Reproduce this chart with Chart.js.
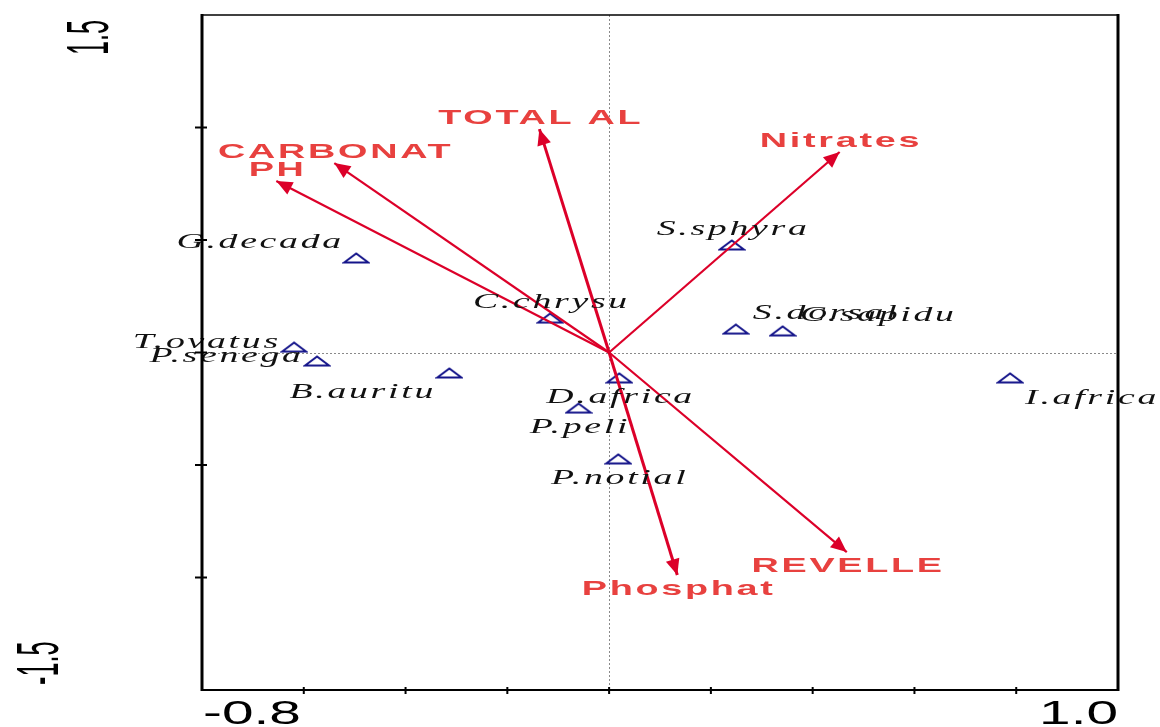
<!DOCTYPE html>
<html>
<head>
<meta charset="utf-8">
<script src="https://cdn.jsdelivr.net/npm/chart.js@4/dist/chart.umd.min.js"></script>
<style>
  html, body { margin: 0; padding: 0; background: #ffffff; }
  #wrap { width: 1160px; height: 727px; position: relative; }
</style>
</head>
<body>
<div id="wrap"><canvas id="ordination"></canvas></div>
<script>
// Species scores (axis 1, axis 2)
const species  = ['G.decada', 'T.ovatus', 'P.senega', 'B.auritu', 'C.chrysu', 'D.africa',
                  'P.peli', 'P.notial', 'S.sphyra', 'S.dorsal', 'C.sapidu', 'I.africa'];
const speciesX = [-0.497, -0.619, -0.574, -0.314, -0.116, 0.020, -0.060, 0.018, 0.241, 0.249, 0.341, 0.788];
const speciesY = [ 0.420,  0.024, -0.038, -0.091,  0.153, -0.113, -0.247, -0.473, 0.478, 0.104, 0.096, -0.113];
// Which side of its symbol each species name sits on
const labelSide = ['NW', 'W', 'W', 'SW', 'N', 'S', 'S', 'S', 'N', 'NE', 'NE', 'SE'];

// Environmental variable vectors (arrow tips)
const envVars = ['TOTAL AL', 'CARBONAT', 'PH', 'Nitrates', 'Phosphat', 'REVELLE'];
const envX    = [-0.137, -0.540, -0.654, 0.453, 0.134, 0.467];
const envY    = [ 0.993,  0.842,  0.762, 0.891, -0.989, -0.887];

// Axis ranges, tick marks and the printed end labels
const xRange = [-0.8, 1.0];
const yRange = [-1.5, 1.5];
const xTickValues = [-0.6, -0.4, -0.2, 0, 0.2, 0.4, 0.6, 0.8];
const yTickValues = [1.0, 0.5, 0, -0.5, -1.0];
const xTickLabels = ['-0.8', '1.0'];
const yTickLabels = ['1.5', '-1.5'];

const ARROW_COLOR = '#dc0029';
const ENV_TEXT = '#e8413f';
const SPECIES_COLOR = '#14148a';

// Open, flattened triangle used as the species symbol
function makeTriangle() {
  const c = document.createElement('canvas');
  c.width = 28; c.height = 12;
  const g = c.getContext('2d');
  g.strokeStyle = SPECIES_COLOR;
  g.lineWidth = 2;
  g.lineJoin = 'miter';
  g.beginPath();
  g.moveTo(2, 10.5);
  g.lineTo(14, 1.5);
  g.lineTo(26, 10.5);
  g.closePath();
  g.stroke();
  return c;
}

// Text drawn with horizontal stretch and tracking
function stretchedText(ctx, text, x, y, align, sx, ls) {
  ctx.save();
  ctx.letterSpacing = ls + 'px';
  ctx.textAlign = 'left';
  ctx.textBaseline = 'alphabetic';
  const w = (ctx.measureText(text).width - ls) * sx;
  let left = x;
  if (align === 'center') left = x - w / 2;
  else if (align === 'right') left = x - w;
  ctx.translate(left, y);
  ctx.scale(sx, 1);
  ctx.fillText(text, 0, 0);
  ctx.restore();
}

const speciesData = species.map((n, i) => ({ x: speciesX[i], y: speciesY[i] }));
const arrowSets = envVars.map((n, i) => ({
  label: n,
  data: [{ x: 0, y: 0 }, { x: envX[i], y: envY[i] }],
  showLine: true,
  borderColor: ARROW_COLOR,
  borderWidth: (n === 'TOTAL AL' || n === 'Phosphat') ? 3 : 2.2,
  pointRadius: 0,
  pointHoverRadius: 0,
  fill: false
}));

const biplotDecor = {
  id: 'biplotDecor',
  beforeDatasetsDraw(chart) {
    const { ctx, chartArea: a, scales: { x, y } } = chart;
    ctx.save();
    ctx.strokeStyle = '#8a8a8a';
    ctx.lineWidth = 1;
    ctx.setLineDash([2, 2]);
    const x0 = Math.round(x.getPixelForValue(0)) + 0.5;
    const y0 = Math.round(y.getPixelForValue(0)) + 0.5;
    ctx.beginPath();
    ctx.moveTo(x0, a.top); ctx.lineTo(x0, a.bottom);
    ctx.moveTo(a.left, y0); ctx.lineTo(a.right, y0);
    ctx.stroke();
    ctx.restore();
  },
  afterDatasetsDraw(chart) {
    const { ctx, scales: { x, y } } = chart;
    ctx.save();
    // arrow heads
    ctx.fillStyle = ARROW_COLOR;
    const ox = x.getPixelForValue(0), oy = y.getPixelForValue(0);
    envVars.forEach((n, i) => {
      const tx = x.getPixelForValue(envX[i]), ty = y.getPixelForValue(envY[i]);
      const ang = Math.atan2(ty - oy, tx - ox);
      const len = 16, half = 7;
      const bx = tx - len * Math.cos(ang), by = ty - len * Math.sin(ang);
      ctx.beginPath();
      ctx.moveTo(tx, ty);
      ctx.lineTo(bx + half * Math.sin(ang), by - half * Math.cos(ang));
      ctx.lineTo(bx - half * Math.sin(ang), by + half * Math.cos(ang));
      ctx.closePath();
      ctx.fill();
    });
    // variable names
    ctx.fillStyle = ENV_TEXT;
    ctx.font = 'bold 21px "Liberation Sans", Arial, sans-serif';
    envVars.forEach((n, i) => {
      const tx = x.getPixelForValue(envX[i]), ty = y.getPixelForValue(envY[i]);
      const base = envY[i] >= 0 ? ty - 5 : ty + 20;
      stretchedText(ctx, n, tx, base, 'center', 1.8, 1.5);
    });
    // species names
    ctx.fillStyle = '#111111';
    ctx.font = 'italic 21px "Liberation Serif", "Times New Roman", serif';
    species.forEach((n, i) => {
      const px = x.getPixelForValue(speciesX[i]), py = y.getPixelForValue(speciesY[i]);
      const side = labelSide[i];
      let ax = px, ay = py, al = 'center';
      if (side === 'N')  { ay = py - 10; }
      if (side === 'S')  { ay = py + 25; }
      if (side === 'W')  { ax = px - 16; ay = py + 1;  al = 'right'; }
      if (side === 'NW') { ax = px - 15; ay = py - 10; al = 'right'; }
      if (side === 'SW') { ax = px - 16; ay = py + 25; al = 'right'; }
      if (side === 'NE') { ax = px + 17; ay = py - 10; al = 'left'; }
      if (side === 'SE') { ax = px + 15; ay = py + 26; al = 'left'; }
      stretchedText(ctx, n, ax, ay, al, 1.8, 1.5);
    });
    ctx.restore();
  },
  afterDraw(chart) {
    const { ctx, chartArea: a, scales: { x, y } } = chart;
    ctx.save();
    ctx.strokeStyle = '#000000';
    ctx.lineCap = 'butt';
    // frame
    ctx.lineWidth = 1.5;
    ctx.beginPath(); ctx.moveTo(a.left, a.top); ctx.lineTo(a.right, a.top); ctx.stroke();
    ctx.lineWidth = 2;
    ctx.beginPath(); ctx.moveTo(a.left, a.bottom); ctx.lineTo(a.right, a.bottom); ctx.stroke();
    ctx.lineWidth = 3;
    ctx.beginPath(); ctx.moveTo(a.left, a.top - 1); ctx.lineTo(a.left, a.bottom + 1); ctx.stroke();
    ctx.beginPath(); ctx.moveTo(a.right, a.top - 1); ctx.lineTo(a.right, a.bottom + 1); ctx.stroke();
    // tick marks
    ctx.lineWidth = 2;
    xTickValues.forEach(v => {
      const px = x.getPixelForValue(v);
      ctx.beginPath(); ctx.moveTo(px, a.bottom - 3); ctx.lineTo(px, a.bottom + 4); ctx.stroke();
    });
    yTickValues.forEach(v => {
      const py = y.getPixelForValue(v);
      ctx.beginPath(); ctx.moveTo(a.left - 7, py); ctx.lineTo(a.left + 5, py); ctx.stroke();
    });
    // end labels of the axes
    ctx.fillStyle = '#000000';
    ctx.font = '33px "Liberation Sans", Arial, sans-serif';
    stretchedText(ctx, xTickLabels[0], x.getPixelForValue(xRange[0]) + 1, a.bottom + 34, 'left', 1.72, 0);
    stretchedText(ctx, xTickLabels[1], x.getPixelForValue(xRange[1]), a.bottom + 34, 'right', 1.72, 0);
    ctx.font = '60px "Liberation Sans", Arial, sans-serif';
    ctx.textBaseline = 'alphabetic';
    const yTop = y.getPixelForValue(yRange[1]);
    const yBot = y.getPixelForValue(yRange[0]);
    [[yTickLabels[0], a.left - 94, yTop + 5, 'end'], [yTickLabels[1], a.left - 144, yBot - 5, 'start']]
      .forEach(([t, bx, by, mode]) => {
        ctx.save();
        const w = ctx.measureText(t).width * 0.42;
        ctx.translate(bx, mode === 'end' ? by + w : by);
        ctx.rotate(-Math.PI / 2);
        ctx.scale(0.42, 1);
        ctx.textAlign = 'left';
        ctx.fillText(t, 0, 0);
        ctx.restore();
      });
    ctx.restore();
  }
};

new Chart(document.getElementById('ordination'), {
  type: 'scatter',
  data: {
    datasets: [
      ...arrowSets,
      {
        label: 'species',
        data: speciesData,
        pointStyle: makeTriangle(),
        pointRadius: 10,
        pointHoverRadius: 10,
        showLine: false
      }
    ]
  },
  options: {
    responsive: true,
    maintainAspectRatio: false,
    animation: false,
    events: [],
    layout: { padding: { left: 202, right: 42, top: 15, bottom: 37 } },
    plugins: { legend: { display: false }, tooltip: { enabled: false } },
    scales: {
      x: { type: 'linear', min: xRange[0], max: xRange[1], display: false },
      y: { type: 'linear', min: yRange[0], max: yRange[1], display: false }
    }
  },
  plugins: [biplotDecor]
});
</script>
</body>
</html>
